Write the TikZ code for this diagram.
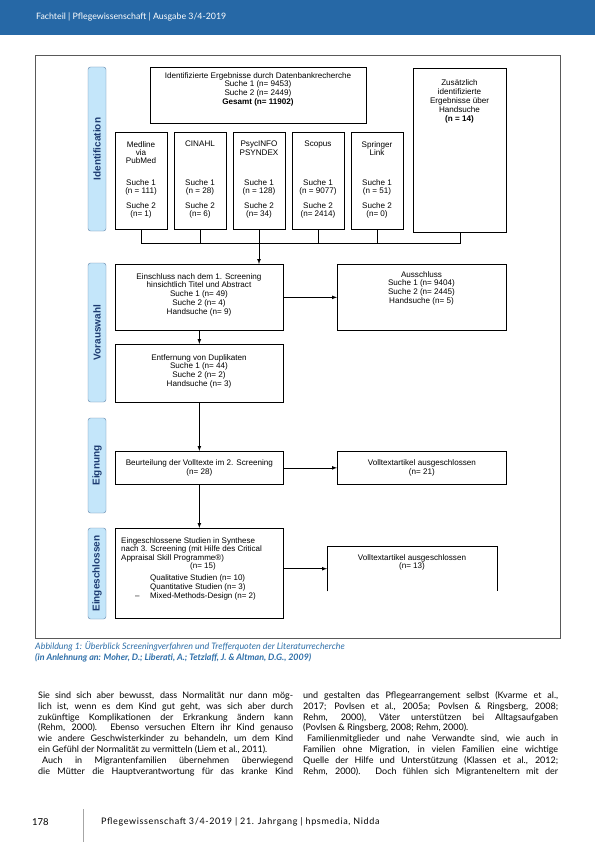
\documentclass[tikz,border=0pt]{standalone}
\usepackage{fontspec}
\setmainfont{Lato}
\newfontfamily\diagfont{Liberation Sans}
\newfontfamily\footfont[LetterSpace=7]{Lato}
\usetikzlibrary{calc}

\definecolor{headblue}{RGB}{38,104,166}
\definecolor{phasefill}{RGB}{196,230,250}
\definecolor{phaseline}{RGB}{95,130,165}
\definecolor{phasetext}{RGB}{28,58,112}
\definecolor{capblue}{RGB}{45,110,168}

\tikzset{
  box/.style={draw, line width=0.7pt, inner sep=0pt},
  txt/.style={font=\diagfont\fontsize{8.1}{8.8}\selectfont, align=center, inner sep=0pt},
  phase/.style={draw=phaseline, fill=phasefill, rounded corners=2.5pt, rotate=90,
    minimum height=18, inner sep=0pt, text=phasetext,
    font=\diagfont\bfseries\fontsize{10}{11}\selectfont},
  arr/.style={-latex, line width=0.7pt},
  body/.style={inner sep=0pt, anchor=base west, font=\fontsize{9}{10.9}\selectfont},
}

\begin{document}
\begin{tikzpicture}[x=1pt,y=-1pt]
    \useasboundingbox (0,0) rectangle (595,842);
    % header
    \fill[headblue] (0,0) rectangle (595,35);
    \node[anchor=west, inner sep=0pt, text=white, font=\fontsize{8.8}{10}\selectfont] (head)
      at (36,17) {Fachteil | Pflegewissenschaft | Ausgabe 3/4-2019};
    % frame of the figure
    \draw[line width=0.7pt, black!65] (35,55) rectangle (560,638);
    % phases
    \node[phase, minimum width=164] (p1) at (97,149) {Identification};
    \node[phase, minimum width=139] (p2) at (97,332.5) {Vorauswahl};
    \node[phase, minimum width=95] (p3) at (97,465.5) {Eignung};
    \node[phase, minimum width=91] (p4) at (97,573.5) {Eingeschlossen};
    % identification
    \node[box, anchor=north west, minimum width=216, minimum height=56] (total) at (150,67) {};
    \node[txt, anchor=north] (total-t) at (258,72)
      {Identifizierte Ergebnisse durch Datenbankrecherche\\Suche 1 (n= 9453)\\Suche 2 (n= 2449)\\\textbf{Gesamt (n= 11902)}};
    \node[box, anchor=north west, minimum width=93, minimum height=164] (hand) at (413,68) {};
    \node[txt, anchor=north, font=\diagfont\fontsize{8.1}{9}\selectfont] (hand-t) at (459.5,79)
      {Zusätzlich\\identifizierte\\Ergebnisse über\\Handsuche\\\textbf{(n = 14)}};
    \foreach \n/\x/\name/\sa/\sb in {db1/141/{Medline\\via\\PubMed}/{(n = 111)}/{(n= 1)},
        db2/200/CINAHL/{(n = 28)}/{(n= 6)},
        db3/259/{PsycINFO\\PSYNDEX}/{(n = 128)}/{(n= 34)},
        db4/318/Scopus/{(n = 9077)}/{(n= 2414)},
        db5/377/{Springer\\Link}/{(n = 51)}/{(n= 0)}}
    {
      \node[box, anchor=north, minimum width=52, minimum height=97] (\n) at (\x,132) {};
      \node[txt, anchor=north, font=\diagfont\fontsize{8.1}{8.4}\selectfont] (\n-name) at (\x,141) {\name};
      \node[txt, anchor=north, font=\diagfont\fontsize{8.1}{8.4}\selectfont] (\n-s1) at (\x,179) {Suche 1\\\sa};
      \node[txt, anchor=north, font=\diagfont\fontsize{8.1}{8.4}\selectfont] (\n-s2) at (\x,202) {Suche 2\\\sb};
    }
    \coordinate (bus) at (0,243);
    \draw[line width=0.7pt] (db1.south) -- (db1.south |- bus) -- (hand.south |- bus) -- (hand.south);
    \foreach \n in {db2,db3,db4,db5}
      \draw[line width=0.7pt] (\n.south) -- (\n.south |- bus);
    % Vorauswahl
    \node[box, anchor=north west, minimum width=168, minimum height=66] (screen1) at (115,264) {};
    \node[txt, anchor=north] (screen1-t) at (199,273)
      {Einschluss nach dem 1. Screening\\hinsichtlich Titel und Abstract\\Suche 1 (n= 49)\\Suche 2 (n= 4)\\Handsuche (n= 9)};
    \node[box, anchor=north west, minimum width=169, minimum height=66] (excl1) at (337,264) {};
    \node[txt, anchor=north] (excl1-t) at (421.5,271)
      {Ausschluss\\Suche 1 (n= 9404)\\Suche 2 (n= 2445)\\Handsuche (n= 5)};
    \node[box, anchor=north west, minimum width=168, minimum height=58] (dup) at (115,344) {};
    \node[txt, anchor=north] (dup-t) at (199,354)
      {Entfernung von Duplikaten\\Suche 1 (n= 44)\\Suche 2 (n= 2)\\Handsuche (n= 3)};
    \draw[arr] (db3.south |- bus) -- (db3.south |- screen1.north);
    \draw[arr] (screen1.east) -- (excl1.west);
    \draw[arr] (screen1.south) -- (dup.north);
    % Eignung
    \node[box, anchor=north west, minimum width=168, minimum height=33] (elig) at (115,451) {};
    \node[txt] (elig-t) at (elig.center) {Beurteilung der Volltexte im 2. Screening\\(n= 28)};
    \node[box, anchor=north west, minimum width=169, minimum height=33] (excl2) at (337,451) {};
    \node[txt] (excl2-t) at (excl2.center) {Volltextartikel ausgeschlossen\\(n= 21)};
    \draw[arr] (dup.south) -- (elig.north);
    \draw[arr] (elig.east) -- (excl2.west);
    % Eingeschlossen
    \node[box, anchor=north west, minimum width=168, minimum height=90] (incl) at (115,528) {};
    \node[txt, anchor=north west, align=left, font=\diagfont\fontsize{8}{8.8}\selectfont] (incl-t) at (121,537)
      {Eingeschlossene Studien in Synthese\\nach 3. Screening (mit Hilfe des Critical\\Appraisal Skill Programme®)};
    \node[txt, font=\diagfont\fontsize{8}{8.8}\selectfont] (incl-n) at (203,566) {(n= 15)};
    \node[txt, anchor=north west, align=left, font=\diagfont\fontsize{8}{9.4}\selectfont] (incl-list) at (135,574)
      {\hspace*{15pt}Qualitative Studien (n= 10)\\\hspace*{15pt}Quantitative Studien (n= 3)\\\makebox[15pt][l]{–}Mixed-Methods-Design (n= 2)};
    \node[anchor=north west, inner sep=0pt, minimum width=170, minimum height=45] (excl3) at (327,546) {};
    \draw[line width=0.7pt] (excl3.south west) |- (excl3.north east) -- (excl3.south east);
    \node[txt, anchor=north] (excl3-t) at (412,554) {Volltextartikel ausgeschlossen\\(n= 13)};
    \draw[arr] (elig.south) -- (incl.north);
    \draw[arr] (incl.east |- excl3.west) -- (excl3.west);
    % caption
    \node[anchor=west, inner sep=0pt, text=capblue, font=\itshape\fontsize{8.9}{10}\selectfont] (cap1)
      at (35,646) {Abbildung 1: Überblick Screeningverfahren und Trefferquoten der Literaturrecherche};
    \node[anchor=west, inner sep=0pt, text=capblue, font=\bfseries\itshape\fontsize{8.9}{10}\selectfont] (cap2)
      at (35,658) {(in Anlehnung an: Moher, D.; Liberati, A.; Tetzlaff, J. \& Altman, D.G., 2009)};
    % body text, two columns
    \foreach \t/\m [count=\i] in {
        {Sie sind sich aber bewusst, dass Normalität nur dann mög-}/s,
        {lich ist, wenn es dem Kind gut geht, was sich aber durch}/s,
        {zukünftige Komplikationen der Erkrankung ändern kann}/s,
        {(Rehm, 2000). Ebenso versuchen Eltern ihr Kind genauso}/s,
        {wie andere Geschwisterkinder zu behandeln, um dem Kind}/s,
        {ein Gefühl der Normalität zu vermitteln (Liem et al., 2011).}/l,
        {\hspace*{4pt}Auch in Migrantenfamilien übernehmen überwiegend}/s,
        {die Mütter die Hauptverantwortung für das kranke Kind}/s}
      \node[body] (left\i) at (38,{698.3+10.86*(\i-1)}) {\makebox[255pt][\m]{\t}};
    \foreach \t/\m [count=\i] in {
        {und gestalten das Pflegearrangement selbst (Kvarme et al.,}/s,
        {2017; Povlsen et al., 2005a; Povlsen \& Ringsberg, 2008;}/s,
        {Rehm, 2000), Väter unterstützen bei Alltagsaufgaben}/s,
        {(Povlsen \& Ringsberg, 2008; Rehm, 2000).}/l,
        {\hspace*{4pt}Familienmitglieder und nahe Verwandte sind, wie auch in}/s,
        {Familien ohne Migration, in vielen Familien eine wichtige}/s,
        {Quelle der Hilfe und Unterstützung (Klassen et al., 2012;}/s,
        {Rehm, 2000). Doch fühlen sich Migranteneltern mit der}/s}
      \node[body] (right\i) at (303,{698.3+10.86*(\i-1)}) {\makebox[255pt][\m]{\t}};
    % footer
    \node[anchor=west, inner sep=0pt, font=\fontsize{9.5}{11}\selectfont] (pagenum) at (32,822) {178};
    \draw[black!35, line width=1pt] (83,809) -- (83,842);
    \node[anchor=west, inner sep=0pt, font=\footfont\fontsize{9}{11}\selectfont] (foot)
      at (101,822) {Pflegewissenschaft 3/4-2019 | 21. Jahrgang | hpsmedia, Nidda};
\end{tikzpicture}
\end{document}
